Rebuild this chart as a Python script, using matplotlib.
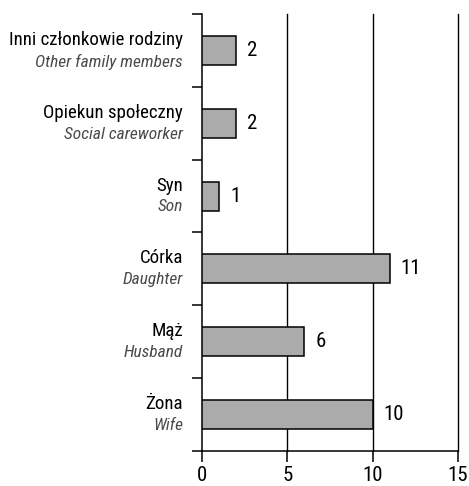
import matplotlib
matplotlib.use("Agg")
import matplotlib.pyplot as plt
from matplotlib import font_manager
from matplotlib.transforms import blended_transform_factory

# pick a narrow font if one is installed
names = {f.name for f in font_manager.fontManager.ttflist}
stretches = {(f.name, f.stretch) for f in font_manager.fontManager.ttflist}
family = "DejaVu Sans"
stretch = "normal"
for cand in ["Liberation Sans Narrow", "Roboto Condensed", "Open Sans Condensed", "Noto Sans Condensed"]:
    if cand in names:
        family = cand
        break
else:
    for nm in ["Roboto", "Open Sans", "Noto Sans", "DejaVu Sans"]:
        if (nm, "condensed") in stretches or (nm, "semi-condensed") in stretches:
            family = nm
            stretch = "condensed" if (nm, "condensed") in stretches else "semi-condensed"
            break

plt.rcParams['font.family'] = [family, 'DejaVu Sans']
plt.rcParams['font.stretch'] = stretch
scale = 1.0 if family != "DejaVu Sans" or stretch != "normal" else 0.85

# data (top to bottom)
labels_pl = ["Inni członkowie rodziny", "Opiekun społeczny", "Syn", "Córka", "Mąż", "Żona"]
labels_en = ["Other family members", "Social careworker", "Son", "Daughter", "Husband", "Wife"]
values = [2, 2, 1, 11, 6, 10]

fig = plt.figure(figsize=(4.69, 4.86), dpi=100)
ax = fig.add_axes([202 / 469, 35 / 486, 256 / 469, 437 / 486])

n = len(values)
ypos = [n - 1 - i + 0.5 for i in range(n)]

ax.barh(ypos, values, height=0.4, color="#ababab", edgecolor="black", linewidth=1.1, zorder=3)

for y, v in zip(ypos, values):
    ax.text(v + 0.65, y, str(v), ha="left", va="center", fontsize=15 * scale, color="black")

trans = blended_transform_factory(ax.transAxes, ax.transData)
for y, pl, en in zip(ypos, labels_pl, labels_en):
    ax.text(-0.075, y + 0.02, pl, transform=trans, ha="right", va="bottom",
            fontsize=13.6 * scale, color="black")
    ax.text(-0.075, y - 0.045, en, transform=trans, ha="right", va="top",
            fontsize=12.5 * scale, color="#4a4a4a", style="italic")

ax.set_xlim(0, 15)
ax.set_ylim(0, n)
ax.set_xticks([0, 5, 10, 15])
ax.set_xticklabels(["0", "5", "10", "15"], fontsize=15 * scale)
ax.set_yticks(range(n + 1))
ax.set_yticklabels([])

for xg in [5, 10, 15]:
    ax.axvline(xg, color="black", linewidth=1.0, zorder=1, clip_on=False)

ax.spines["top"].set_visible(False)
ax.spines["right"].set_visible(False)
ax.spines["left"].set_linewidth(1.1)
ax.spines["bottom"].set_linewidth(1.1)
ax.tick_params(axis="y", length=7, width=1.1, direction="out")
ax.tick_params(axis="x", length=8, width=1.1, direction="out", pad=3)

fig.savefig("out.png", dpi=100)
